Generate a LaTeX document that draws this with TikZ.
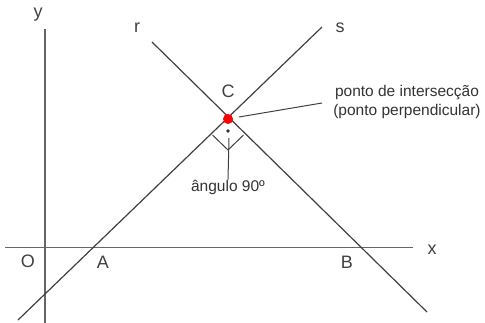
\documentclass[tikz,border=0pt]{standalone}
\usepackage{fontspec}
\setmainfont{Liberation Sans}
\begin{document}
\begin{tikzpicture}[x=1pt,y=-1pt,
  axis/.style={draw=black!60,line width=1.6pt},
  ln/.style={draw=black!75,line width=1.2pt},
  lbl/.style={font=\fontsize{18}{20}\selectfont,text=black!75,inner sep=0pt},
  small/.style={font=\fontsize{15.5}{18.5}\selectfont,text=black!80,inner sep=0pt,align=center}]
\useasboundingbox (0,0) rectangle (485,323);
% axes
\coordinate (ytop) at (45,29);
\coordinate (ybot) at (45,323);
\coordinate (xl) at (5,247.5);
\coordinate (xr) at (413,247.5);
\draw[axis] (ybot) -- (ytop);
\draw[axis] (xl) -- (xr);
% lines
\coordinate (C) at (228,119);
\coordinate (stop) at (322,27);
\coordinate (sbot) at (18,320);
\coordinate (rtop) at (152,42);
\coordinate (rbot) at (427,312);
\draw[ln] (sbot) -- (stop);
\draw[ln] (rtop) -- (rbot);
% right angle marker
\coordinate (ral) at (212.5,135);
\coordinate (rar) at (243.5,135);
\coordinate (rab) at (228,150);
\draw[ln,line width=1pt] (ral) -- (rab) -- (rar);
\fill[black!80] (228,131) circle (1.8);
% labels
\node[lbl] (ly) at (38,15) {y};
\node[lbl] (lr) at (137,28) {r};
\node[lbl] (ls) at (340,28) {s};
\node[lbl] (lC) at (228,91) {C};
\node[lbl] (lO) at (28,261) {O};
\node[lbl] (lA) at (103,262) {A};
\node[lbl] (lB) at (347,262) {B};
\node[lbl] (lx) at (432,250) {x};
% angle label
\node[small] (ang) at (228,187) {ângulo 90º};
\coordinate (angtop) at (229,138);
\draw[ln,line width=1pt] (angtop) -- (ang.north);
% intersection label
\node[small] (inter) at (407,102) {ponto de intersecção\\(ponto perpendicular)};
\coordinate (ptr) at (239,117);
\coordinate (ptrend) at (322,103);
\draw[ln,line width=1pt] (ptr) -- (ptrend);
\fill[red] (C) circle (5);
\end{tikzpicture}
\end{document}
